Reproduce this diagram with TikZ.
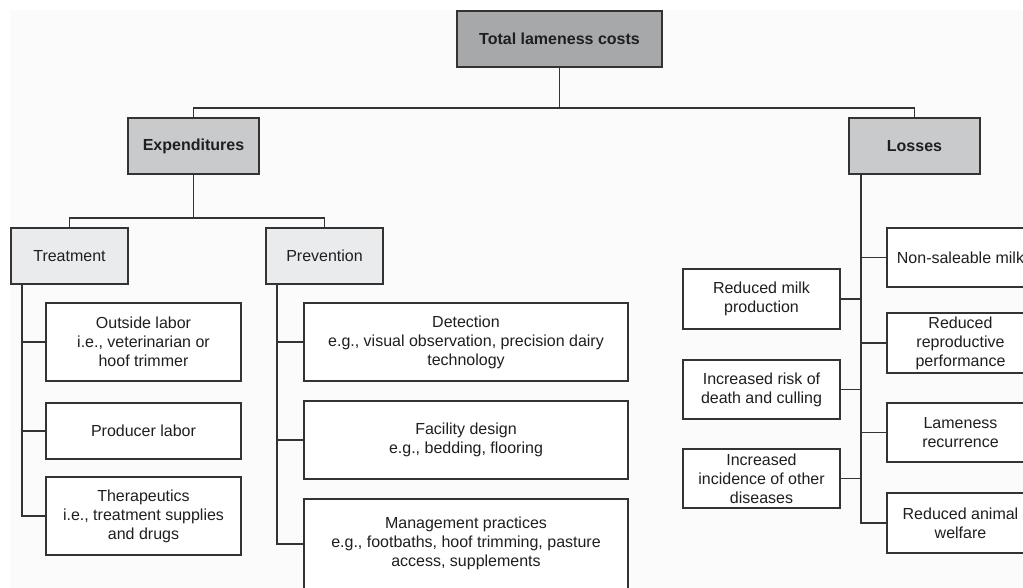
\documentclass[tikz,border=0pt]{standalone}
\usepackage{fontspec}
\setmainfont{Liberation Sans}
\definecolor{linec}{HTML}{333333}
\definecolor{topfill}{HTML}{A7A8AA}
\definecolor{midfill}{HTML}{C9CACC}
\definecolor{lowfill}{HTML}{EAEBEC}
\definecolor{bgc}{HTML}{FBFBFB}
\tikzset{
  box/.style={draw=linec, line width=1.7pt, fill=white, rectangle, align=center,
    inner sep=2pt, font=\fontsize{16}{19}\selectfont, text=black!88},
  topbox/.style={box, fill=topfill, font=\fontsize{16}{19}\selectfont\bfseries},
  midbox/.style={box, fill=midfill, font=\fontsize{16}{19}\selectfont\bfseries},
  lowbox/.style={box, fill=lowfill},
  conn/.style={draw=linec, line width=1.7pt}
}
\begin{document}
\begin{tikzpicture}[x=1pt, y=-1pt]
\useasboundingbox (0,0) rectangle (1023,588);
\clip (0,0) rectangle (1023,588);
\fill[white] (0,0) rectangle (1023,588);
\fill[bgc] (10,10) rectangle (1023,588);

% level 0/1
\node[topbox, minimum width=205pt, minimum height=56pt] (total) at (559.5,39) {Total lameness costs};
\node[midbox, minimum width=131pt, minimum height=56pt] (exp) at (193.5,146) {Expenditures};
\node[midbox, minimum width=131pt, minimum height=56pt] (loss) at (914.5,146) {Losses};
% level 2
\node[lowbox, minimum width=117pt, minimum height=56pt] (treat) at (69.5,256) {Treatment};
\node[lowbox, minimum width=117pt, minimum height=56pt] (prev) at (324.5,256) {Prevention};
% treatment items
\node[box, minimum width=195pt, minimum height=78pt] (outside) at (143.5,342) {Outside labor\\i.e., veterinarian or\\hoof trimmer};
\node[box, minimum width=195pt, minimum height=56pt] (producer) at (143.5,431) {Producer labor};
\node[box, minimum width=195pt, minimum height=78pt] (therap) at (143.5,516) {Therapeutics\\i.e., treatment supplies\\and drugs};
% prevention items
\node[box, minimum width=324pt, minimum height=78pt] (detect) at (466,342) {Detection\\e.g., visual observation, precision dairy\\technology};
\node[box, minimum width=324pt, minimum height=78pt] (facility) at (466,440) {Facility design\\e.g., bedding, flooring};
\node[box, minimum width=324pt, minimum height=110pt] (mgmt) at (466,554) {Management practices\\e.g., footbaths, hoof trimming, pasture\\access, supplements\\\strut};
% losses items, left
\node[box, minimum width=157pt, minimum height=60pt] (rmilk) at (761.5,299) {Reduced milk\\production};
\node[box, minimum width=157pt, minimum height=59pt] (rdeath) at (761.5,389.5) {Increased risk of\\death and culling};
\node[box, minimum width=157pt, minimum height=59pt] (rinc) at (761.5,478.5) {Increased\\incidence of other\\diseases};
% losses items, right
\node[box, minimum width=147pt, minimum height=59pt] (nonsale) at (960.5,257.5) {Non-saleable milk};
\node[box, minimum width=147pt, minimum height=60pt] (rrep) at (960.5,343) {Reduced\\reproductive\\performance};
\node[box, minimum width=147pt, minimum height=59pt] (lrec) at (960.5,432.5) {Lameness\\recurrence};
\node[box, minimum width=147pt, minimum height=60pt] (rwel) at (960.5,523) {Reduced animal\\welfare};

% junctions
\coordinate (j1) at (559.5,108);
\coordinate (j2) at (193.5,218);
\coordinate (ts) at ([xshift=12pt]treat.south west);
\coordinate (ps) at ([xshift=12pt]prev.south west);
\coordinate (ls) at ([xshift=13pt]loss.south west);

\draw[conn] (total.south) -- (j1);
\draw[conn] (exp.north) |- (j1) -| (loss.north);
\draw[conn] (exp.south) -- (j2);
\draw[conn] (treat.north) |- (j2) -| (prev.north);

\draw[conn] (ts) |- (therap.west);
\draw[conn] (outside.west) -- (outside.west -| ts);
\draw[conn] (producer.west) -- (producer.west -| ts);

\draw[conn] (ps) |- ([yshift=10pt]mgmt.west);
\draw[conn] (detect.west) -- (detect.west -| ps);
\draw[conn] (facility.west) -- (facility.west -| ps);

\draw[conn] (ls) |- (rwel.west);
\draw[conn] (nonsale.west) -- (nonsale.west -| ls);
\draw[conn] (rrep.west) -- (rrep.west -| ls);
\draw[conn] (lrec.west) -- (lrec.west -| ls);
\draw[conn] (rmilk.east) -- (rmilk.east -| ls);
\draw[conn] (rdeath.east) -- (rdeath.east -| ls);
\draw[conn] (rinc.east) -- (rinc.east -| ls);
\end{tikzpicture}
\end{document}
